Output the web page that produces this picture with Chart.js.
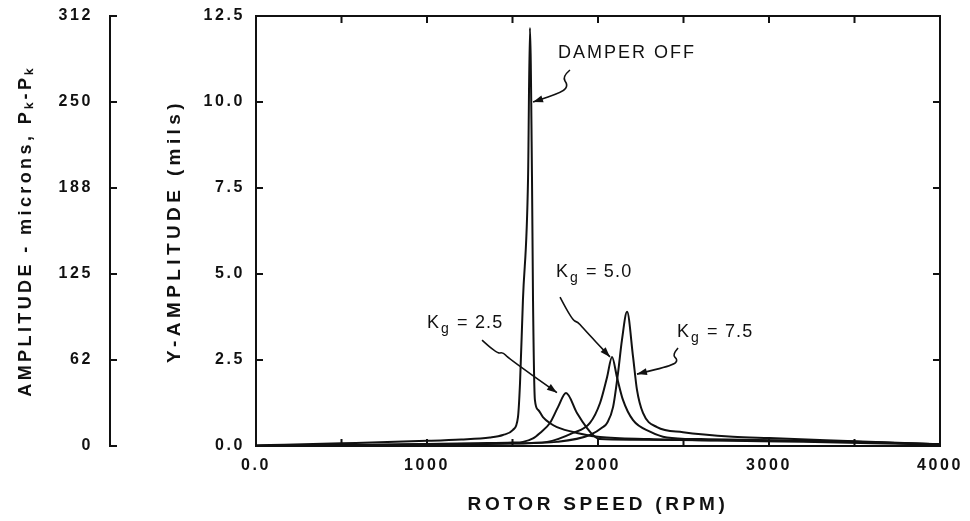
<!DOCTYPE html>
<html><head><meta charset="utf-8">
<script src="https://cdn.jsdelivr.net/npm/chart.js@4.4.1/dist/chart.umd.min.js"></script>
<style>html,body{margin:0;padding:0;background:#fff;}</style>
</head><body>
<canvas id="c" width="970" height="521"></canvas>
<script>
// ---- tick definitions ----
const xTickValues = [0, 1000, 2000, 3000, 4000];
const xTickLabels = ['0.0', '1000', '2000', '3000', '4000'];
const xInnerTicks = [500, 1000, 1500, 2000, 2500, 3000, 3500];
const yTickValues = [0, 2.5, 5, 7.5, 10, 12.5];
const yTickLabels = ['0.0', '2.5', '5.0', '7.5', '10.0', '12.5'];
const yInnerTicks = [2.5, 5, 7.5, 10];
const micronTickValues = [0, 62.5, 125, 187.5, 250, 312.5];
const micronTickLabels = ['0', '62', '125', '188', '250', '312'];

// ---- series (rotor speed RPM, Y-amplitude mils) ----
const damperOffRpm = [0, 500, 1000, 1200, 1368, 1444, 1503, 1532, 1544, 1561, 1591, 1602, 1614, 1620, 1631, 1650, 1678, 1720, 1760, 1877, 2012, 2300, 2700, 3200, 3600, 4000];
const damperOffAmp = [0.02, 0.08, 0.15, 0.19, 0.25, 0.32, 0.47, 0.84, 1.83, 4.24, 7.8, 12.15, 7.8, 4.24, 1.34, 1.05, 0.84, 0.66, 0.55, 0.38, 0.26, 0.2, 0.16, 0.12, 0.08, 0.04];

const kg25Rpm = [0, 500, 1000, 1300, 1500, 1561, 1620, 1661, 1719, 1766, 1813, 1877, 1936, 1971, 2010, 2200, 2600, 3000, 3500, 4000];
const kg25Amp = [0.0, 0.03, 0.06, 0.08, 0.1, 0.12, 0.22, 0.38, 0.67, 1.13, 1.54, 0.96, 0.52, 0.32, 0.2, 0.18, 0.17, 0.16, 0.12, 0.05];

const kg50Rpm = [0, 500, 1000, 1500, 1702, 1854, 1953, 2012, 2053, 2082, 2111, 2146, 2205, 2304, 2403, 2600, 3000, 3500, 4000];
const kg50Amp = [0.0, 0.02, 0.05, 0.08, 0.12, 0.38, 0.67, 1.25, 2.0, 2.59, 2.0, 1.34, 0.75, 0.42, 0.25, 0.2, 0.17, 0.12, 0.05];

const kg75Rpm = [0, 500, 1000, 1500, 1760, 1953, 2029, 2053, 2088, 2117, 2140, 2170, 2205, 2228, 2263, 2345, 2497, 2789, 3000, 3500, 4000];
const kg75Amp = [0.0, 0.02, 0.04, 0.07, 0.12, 0.32, 0.55, 0.67, 1.13, 2.12, 3.08, 3.9, 2.59, 1.63, 0.96, 0.55, 0.4, 0.27, 0.23, 0.14, 0.05];

// ---- annotation labels (anchored in data units) ----
const annotations = [
  { parts: [['DAMPER OFF', 0]], at: [1766, 11.28],
    path: [[1836, 10.93], [1789, 10.73], [1825, 10.49], [1795, 10.29], [1620, 10.0]] },
  { parts: [['K', 0], ['g', 1], [' = 2.5', 0]], at: [1000, 3.43],
    path: [[1322, 3.08], [1409, 2.68], [1444, 2.73], [1474, 2.56], [1760, 1.55]] },
  { parts: [['K', 0], ['g', 1], [' = 5.0', 0]], at: [1754, 4.91],
    path: [[1778, 4.33], [1848, 3.66], [1883, 3.60], [1906, 3.46], [2070, 2.59]] },
  { parts: [['K', 0], ['g', 1], [' = 7.5', 0]], at: [2462, 3.17],
    path: [[2468, 2.85], [2433, 2.65], [2468, 2.5], [2439, 2.35], [2228, 2.09]] }
];

const FONT = '"Liberation Sans", Arial, Helvetica, sans-serif';
const INK = '#111';

function pts(xs, ys) { return xs.map((x, i) => ({ x: x, y: ys[i] })); }
function ds(label, xs, ys) {
  return { label: label, data: pts(xs, ys), borderColor: INK, borderWidth: 2, pointRadius: 0,
    fill: false, cubicInterpolationMode: 'monotone', xAxisID: 'x', yAxisID: 'y' };
}

const SP = '2.6px';
const TITLE_SP = { x: '3.7px', y: '4.4px', y2: '3.4px' };
const spacingPlugin = {
  id: 'spacing',
  beforeUpdate(chart) { chart.ctx.letterSpacing = SP; },
  beforeLayout(chart) { chart.ctx.letterSpacing = SP; },
  beforeDraw(chart) {
    chart.ctx.letterSpacing = SP;
    Object.keys(TITLE_SP).forEach(id => {
      const s = chart.scales[id];
      if (s && !s._spPatched) {
        const orig = s.drawTitle;
        s.drawTitle = function () {
          const c = this.ctx, old = c.letterSpacing;
          c.letterSpacing = TITLE_SP[id];
          orig.apply(this, arguments);
          c.letterSpacing = old;
        };
        s._spPatched = true;
      }
    });
  }
};

const framePlugin = {
  id: 'frame',
  afterDraw(chart) {
    const ctx = chart.ctx, a = chart.chartArea;
    const sx = chart.scales.x, sy = chart.scales.y, s2 = chart.scales.y2;
    ctx.save();
    ctx.strokeStyle = INK; ctx.lineWidth = 2;
    ctx.strokeRect(a.left, a.top, a.right - a.left, a.bottom - a.top);
    ctx.beginPath();
    const L = 7;
    xInnerTicks.forEach(v => {
      const px = sx.getPixelForValue(v);
      ctx.moveTo(px, a.bottom); ctx.lineTo(px, a.bottom - L);
      ctx.moveTo(px, a.top); ctx.lineTo(px, a.top + L);
    });
    yInnerTicks.forEach(v => {
      const py = sy.getPixelForValue(v);
      ctx.moveTo(a.left, py); ctx.lineTo(a.left + L, py);
      ctx.moveTo(a.right, py); ctx.lineTo(a.right - L, py);
    });
    micronTickValues.forEach(v => {
      const py = s2.getPixelForValue(v);
      ctx.moveTo(s2.right, py); ctx.lineTo(s2.right + L, py);
    });
    ctx.stroke();

    // annotations
    ctx.lineWidth = 1.6;
    ctx.fillStyle = INK;
    ctx.textBaseline = 'alphabetic';
    annotations.forEach(an => {
      let x = sx.getPixelForValue(an.at[0]);
      const y = sy.getPixelForValue(an.at[1]);
      an.parts.forEach(p => {
        ctx.letterSpacing = p[0].charAt(0) === ' ' ? '1.2px' : '2px';
        ctx.font = (p[1] ? '14px ' : '18px ') + FONT;
        const yy = p[1] ? y + 5 : y;
        ctx.fillText(p[0], x, yy);
        x += ctx.measureText(p[0]).width;
      });
      const P = an.path.map(q => [sx.getPixelForValue(q[0]), sy.getPixelForValue(q[1])]);
      ctx.beginPath();
      ctx.moveTo(P[0][0], P[0][1]);
      for (let i = 1; i < P.length - 1; i++) {
        const mx = (P[i][0] + P[i + 1][0]) / 2, my = (P[i][1] + P[i + 1][1]) / 2;
        ctx.quadraticCurveTo(P[i][0], P[i][1], mx, my);
      }
      const e = P[P.length - 1], f = P[P.length - 2];
      ctx.lineTo(e[0], e[1]);
      ctx.stroke();
      const ang = Math.atan2(e[1] - f[1], e[0] - f[0]);
      const hl = 10, hw = 3.5;
      ctx.beginPath();
      ctx.moveTo(e[0], e[1]);
      ctx.lineTo(e[0] - hl * Math.cos(ang) + hw * Math.sin(ang), e[1] - hl * Math.sin(ang) - hw * Math.cos(ang));
      ctx.lineTo(e[0] - hl * Math.cos(ang) - hw * Math.sin(ang), e[1] - hl * Math.sin(ang) + hw * Math.cos(ang));
      ctx.closePath();
      ctx.fill();
    });
    ctx.restore();
  }
};

const tickFont = { family: FONT, size: 16, weight: 'bold' };
const titleFont = { family: FONT, size: 19, weight: 'bold' };
function noPadV(s) { s.paddingTop = 0; s.paddingBottom = 0; }

new Chart(document.getElementById('c'), {
  type: 'line',
  data: { datasets: [
    ds('DAMPER OFF', damperOffRpm, damperOffAmp),
    ds('Kg = 2.5', kg25Rpm, kg25Amp),
    ds('Kg = 5.0', kg50Rpm, kg50Amp),
    ds('Kg = 7.5', kg75Rpm, kg75Amp)
  ] },
  options: {
    responsive: false, animation: false, devicePixelRatio: 1,
    layout: { padding: { top: 16, right: 30, left: 0, bottom: 0 } },
    plugins: { legend: { display: false }, tooltip: { enabled: false } },
    scales: {
      x: {
        type: 'linear', position: 'bottom', min: 0, max: 4000,
        afterBuildTicks: s => { s.ticks = xTickValues.map(v => ({ value: v })); },
        ticks: { callback: (v, i) => xTickLabels[i], color: INK, font: tickFont, padding: 10, maxRotation: 0 },
        grid: { display: false, drawTicks: false },
        border: { display: false },
        title: { display: true, text: 'ROTOR SPEED (RPM)', color: INK, font: titleFont, padding: { top: 0, bottom: 5 } },
        afterFit: s => { s.height = 75; s.paddingLeft = 0; s.paddingRight = 0; }
      },
      y: {
        type: 'linear', position: 'left', weight: 0, min: 0, max: 12.5,
        afterBuildTicks: s => { s.ticks = yTickValues.map(v => ({ value: v })); },
        ticks: { callback: (v, i) => yTickLabels[i], color: INK, font: tickFont, padding: 11 },
        grid: { display: false, drawTicks: false },
        border: { display: false },
        title: { display: true, text: 'Y-AMPLITUDE (mils)', color: INK, font: titleFont, padding: { top: 53, bottom: 0 } },
        afterFit: s => { s.width = 146; noPadV(s); }
      },
      y2: {
        type: 'linear', axis: 'y', position: 'left', weight: 1, min: 0, max: 312.5,
        afterBuildTicks: s => { s.ticks = micronTickValues.map(v => ({ value: v })); },
        ticks: { callback: (v, i) => micronTickLabels[i], color: INK, font: tickFont, padding: 17 },
        grid: { display: false, drawTicks: false },
        border: { display: true, color: INK, width: 2 },
        title: { display: true, text: 'AMPLITUDE - microns, Pₖ-Pₖ', color: INK, font: { family: FONT, size: 18, weight: 'bold' }, padding: { top: 15, bottom: 0 } },
        afterFit: s => { s.width = 110; noPadV(s); }
      }
    }
  },
  plugins: [spacingPlugin, framePlugin]
});
</script>
</body></html>
